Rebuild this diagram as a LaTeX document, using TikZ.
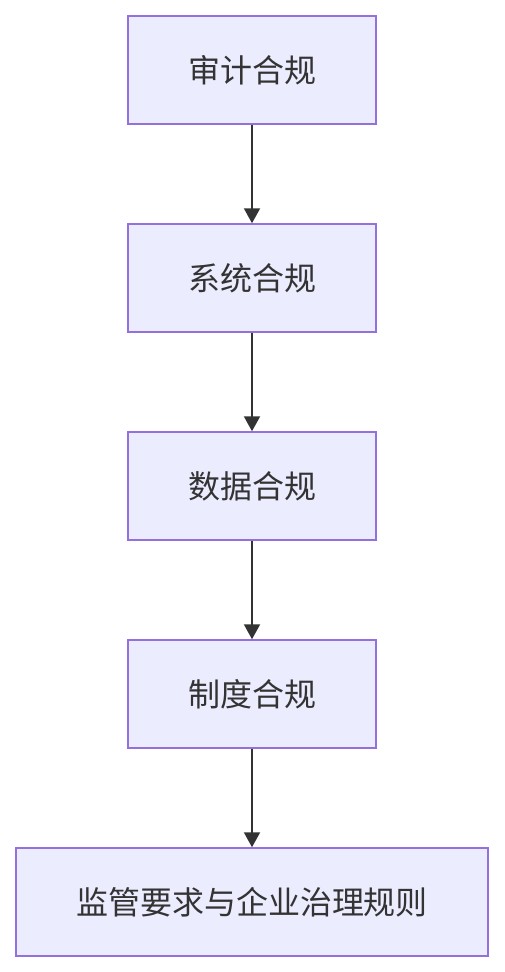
\documentclass[tikz,border=0pt]{standalone}
\usepackage{fontspec}
\newfontfamily\cjk{Noto Sans CJK SC}
\usetikzlibrary{arrows.meta}
\definecolor{nodefill}{HTML}{ECECFF}
\definecolor{nodeline}{HTML}{9370DB}
\definecolor{edgecol}{HTML}{333333}
\begin{document}
\begin{tikzpicture}[x=1pt,y=-1pt,
  box/.style={draw=nodeline,fill=nodefill,line width=1.5pt,minimum height=108pt,inner sep=0pt,font=\cjk\fontsize{32}{36}\selectfont,text=edgecol},
  flow/.style={draw=edgecol,line width=2pt,-{Triangle[length=15pt,width=16pt]}}]
\useasboundingbox (0,0) rectangle (504,972);
\node[box,minimum width=248pt] (a) at (252,70) {审计合规};
\node[box,minimum width=248pt] (b) at (252,278) {系统合规};
\node[box,minimum width=248pt] (c) at (252,486) {数据合规};
\node[box,minimum width=248pt] (d) at (252,694) {制度合规};
\node[box,minimum width=472pt] (e) at (252,902) {监管要求与企业治理规则};
\draw[flow] (a) -- (b);
\draw[flow] (b) -- (c);
\draw[flow] (c) -- (d);
\draw[flow] (d) -- (e);
\end{tikzpicture}
\end{document}
